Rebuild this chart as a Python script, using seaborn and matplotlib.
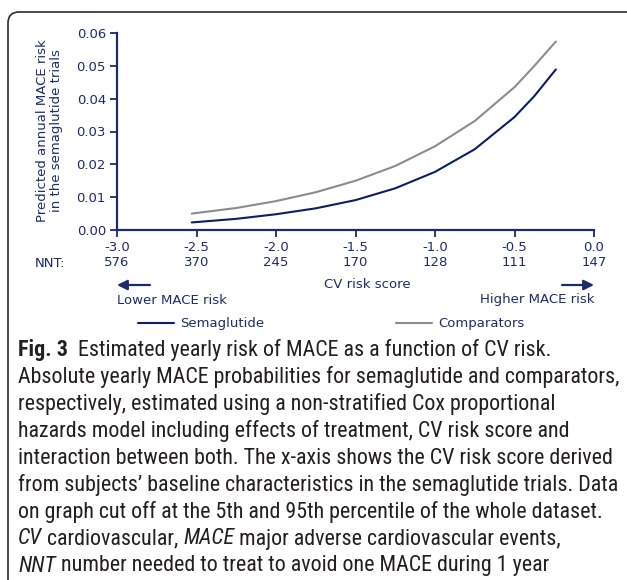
import numpy as np
import pandas as pd
import seaborn as sns
import matplotlib.pyplot as plt
from matplotlib import font_manager
from matplotlib.patches import FancyBboxPatch

# values
cv_score = [-2.53, -2.25, -2.0, -1.75, -1.5, -1.25, -1.0, -0.75, -0.5, -0.375, -0.24]
semaglutide = [0.0023, 0.0034, 0.0048, 0.0066, 0.0091, 0.0127, 0.0177, 0.0246, 0.0344, 0.0408, 0.0489]
comparators = [0.0050, 0.0067, 0.0088, 0.0115, 0.0150, 0.0195, 0.0255, 0.0332, 0.0435, 0.0500, 0.0574]
x_ticks = [-3.0, -2.5, -2.0, -1.5, -1.0, -0.5, 0.0]
nnt = [576, 370, 245, 170, 128, 111, 147]
y_ticks = [0.00, 0.01, 0.02, 0.03, 0.04, 0.05, 0.06]

caption = [
    [('Fig. 3', 'bold'), ('  Estimated yearly risk of MACE as a function of CV risk.', 'normal')],
    [('Absolute yearly MACE probabilities for semaglutide and comparators,', 'normal')],
    [('respectively, estimated using a non-stratified Cox proportional', 'normal')],
    [('hazards model including effects of treatment, CV risk score and', 'normal')],
    [('interaction between both. The x-axis shows the CV risk score derived', 'normal')],
    [('from subjects\u2019 baseline characteristics in the semaglutide trials. Data', 'normal')],
    [('on graph cut off at the 5th and 95th percentile of the whole dataset.', 'normal')],
    [('CV', 'italic'), (' cardiovascular, ', 'normal'), ('MACE', 'italic'), (' major adverse cardiovascular events,', 'normal')],
    [('NNT', 'italic'), (' number needed to treat to avoid one MACE during 1 year', 'normal')],
]

df = pd.DataFrame({
    'cv': cv_score * 2,
    'risk': semaglutide + comparators,
    'group': ['Semaglutide'] * len(cv_score) + ['Comparators'] * len(cv_score),
})

navy = '#1c2b6e'
line_navy = '#0c1e66'
grey = '#8c8c8c'

sns.set_theme(style='ticks')
plt.rcParams['font.family'] = ['DejaVu Sans']

# caption font: a narrow sans if one is installed
fonts = font_manager.fontManager.ttflist
names = {f.name for f in fonts}
cap_family, cap_stretch = 'Liberation Sans', 'normal'
for nm in ['Roboto Condensed', 'Liberation Sans Narrow', 'Open Sans Condensed']:
    if nm in names:
        cap_family = nm
        break
else:
    for nm in ['Noto Sans', 'Open Sans', 'DejaVu Sans', 'Roboto']:
        if any(f.name == nm and f.stretch in ('condensed', 'semi-condensed') for f in fonts):
            cap_family, cap_stretch = nm, 'condensed'
            break

W, H = 627, 580
fig = plt.figure(figsize=(W / 100, H / 100), dpi=100)


def fx(x):
    return x / W


def fy(y):
    return 1 - y / H


ax = fig.add_axes([fx(117), fy(230), fx(594) - fx(117), fy(33) - fy(230)])
sns.lineplot(data=df, x='cv', y='risk', hue='group',
             palette={'Semaglutide': line_navy, 'Comparators': grey},
             linewidth=1.5, ax=ax)

ax.set_xlim(-3.0, 0.0)
ax.set_ylim(0, 0.06)
ax.set_xticks(x_ticks)
ax.set_xticklabels([f'{v:.1f}\n{n}' for v, n in zip(x_ticks, nnt)], linespacing=1.15)
ax.set_yticks(y_ticks)
ax.set_yticklabels([f'{v:.2f}' for v in y_ticks])
ax.tick_params(direction='out', length=5, width=1.3, colors=navy, labelsize=9.5, pad=3)
for s in ['top', 'right']:
    ax.spines[s].set_visible(False)
for s in ['left', 'bottom']:
    ax.spines[s].set_color(navy)
    ax.spines[s].set_linewidth(1.6)
ax.set_xlabel('')
ax.set_ylabel('')

ax.legend(ncol=2, loc='center left', bbox_to_anchor=(fx(138), fy(324)),
          bbox_transform=fig.transFigure, frameon=False, handlelength=2.7,
          columnspacing=10.0, handletextpad=0.5, fontsize=9.5, labelcolor=navy,
          borderpad=0, borderaxespad=0)

fig.text(fx(50), fy(131), 'Predicted annual MACE risk\nin the semaglutide trials',
         rotation=90, ha='center', va='center', multialignment='center',
         color=navy, fontsize=9.5, linespacing=1.1)
fig.text(fx(35), fy(263), 'NNT:', ha='left', va='center', color=navy, fontsize=9.5)
fig.text(fx(367), fy(284), 'CV risk score', ha='center', va='center', color=navy, fontsize=9.5)
fig.text(fx(117), fy(300), 'Lower MACE risk', ha='left', va='center', color=navy, fontsize=9.5)
fig.text(fx(594), fy(300), 'Higher MACE risk', ha='right', va='center', color=navy, fontsize=9.5)
arrow = dict(arrowstyle='-|>,head_length=0.5,head_width=0.25', color=navy, lw=1.6,
             shrinkA=0, shrinkB=0)
fig.add_artist(plt.Annotation('', xy=(fx(117), fy(285)), xytext=(fx(150), fy(285)),
                              xycoords='figure fraction', arrowprops=arrow))
fig.add_artist(plt.Annotation('', xy=(fx(594), fy(285)), xytext=(fx(562), fy(285)),
                              xycoords='figure fraction', arrowprops=arrow))

# panel border (right side runs off the image)
fig.add_artist(FancyBboxPatch((0.08, -1.0), 7.0, 5.68 + 1.0,
                              boxstyle='round,pad=0,rounding_size=0.11',
                              transform=fig.dpi_scale_trans, fill=False,
                              ec='#2b2b2b', lw=1.2))

# caption
cap_texts = []
for i, line in enumerate(caption):
    y = 350 + 27 * i
    prev = None
    row = []
    for txt, style in line:
        weight = 'bold' if style == 'bold' else 'normal'
        fstyle = 'italic' if style == 'italic' else 'normal'
        if prev is None:
            prev = fig.text(fx(18), fy(y), txt, ha='left', va='center', fontsize=13,
                            family=cap_family, stretch=cap_stretch, weight=weight,
                            style=fstyle, color='#231f20')
        else:
            prev = ax.annotate(txt, xy=(1, 0), xycoords=prev, ha='left', va='bottom',
                               fontsize=13, family=cap_family, stretch=cap_stretch,
                               weight=weight, style=fstyle, color='#231f20',
                               annotation_clip=False)
        row.append(prev)
    cap_texts.append(row)

# scale caption so the second line spans the same width as in the figure
fig.canvas.draw()
r = fig.canvas.get_renderer()
w = cap_texts[1][0].get_window_extent(r).width
size = 13 * 600 / w
for row in cap_texts:
    for t in row:
        t.set_fontsize(size)

fig.savefig('out.png', dpi=100)
